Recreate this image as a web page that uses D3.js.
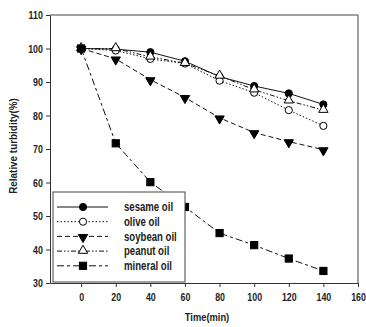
<!DOCTYPE html>
<html>
<head>
<meta charset="utf-8">
<script src="https://cdn.jsdelivr.net/npm/d3@7"></script>
<style>
  body { margin: 0; background: #fff; }
  svg text { font-family: "Liberation Sans", Arial, sans-serif; font-weight: bold; fill: #222; }
  .axis path, .axis line { stroke: #333; }
</style>
</head>
<body>
<div id="chart"></div>
<script>
// tiempos y valores
var times = [0, 20, 40, 60, 80, 100, 120, 140];
var sesame = [100, 99.8, 98.9, 96.2, 91.6, 88.8, 86.6, 83.3];
var olive = [100, 99.4, 96.9, 95.5, 90.4, 86.8, 81.6, 76.9];
var soybean = [100, 96.9, 90.7, 85.4, 79.3, 74.9, 72.2, 69.8];
var peanut = [100, 100, 97.5, 95.6, 91.8, 87.7, 84.4, 81.6];
var mineral = [100, 71.7, 60.1, 52.7, 44.9, 41.3, 37.3, 33.6];
var seriesNames = ["sesame oil", "olive oil", "soybean oil", "peanut oil", "mineral oil"];
var xTicks = [0, 20, 40, 60, 80, 100, 120, 140, 160];
var yTicks = [30, 40, 50, 60, 70, 80, 90, 100, 110];

var series = [
  {name: seriesNames[0], values: sesame, dash: null, marker: "circle", fill: "#000"},
  {name: seriesNames[1], values: olive, dash: "1.5,2", marker: "circle", fill: "#fff"},
  {name: seriesNames[2], values: soybean, dash: "5,3", marker: "down", fill: "#000"},
  {name: seriesNames[3], values: peanut, dash: "5,2,1.5,2,1.5,2", marker: "up", fill: "#fff"},
  {name: seriesNames[4], values: mineral, dash: "7,3,3,3", marker: "square", fill: "#000"}
];

var margin = {top: 15, right: 8, bottom: 44, left: 50},
    width = 366 - margin.left - margin.right,
    height = 327 - margin.top - margin.bottom;

var x = d3.scaleLinear().domain([-18, 160]).range([0, width]);
var y = d3.scaleLinear().domain([30, 110]).range([height, 0]);

var svg = d3.select("#chart").append("svg")
    .attr("width", 366)
    .attr("height", 327);

var g = svg.append("g")
    .attr("transform", "translate(" + margin.left + "," + margin.top + ")");

// marco
g.append("line").attr("x1", 0).attr("x2", width).attr("y1", 0).attr("y2", 0).attr("stroke", "#444");
g.append("line").attr("x1", width).attr("x2", width).attr("y1", 0).attr("y2", height).attr("stroke", "#444");

var xAxis = d3.axisBottom(x).tickValues(xTicks).tickSize(4).tickSizeOuter(0);
var yAxis = d3.axisLeft(y).tickValues(yTicks).tickSize(4).tickSizeOuter(0);

g.append("g")
    .attr("class", "x axis")
    .attr("transform", "translate(0," + height + ")")
    .call(xAxis)
    .selectAll("text")
    .style("font-size", "11px")
    .attr("y", 10)
    .attr("dy", "0.71em")
    .attr("transform", "scale(0.8,1)");

g.append("g")
    .attr("class", "y axis")
    .call(yAxis)
    .selectAll("text")
    .style("font-size", "11px")
    .attr("x", -9)
    .attr("transform", "scale(0.8,1)");

g.selectAll(".domain").attr("stroke", "#333");

function drawMarker(sel, type, fill, cx, cy) {
  if (type === "circle") {
    sel.append("circle").attr("cx", cx).attr("cy", cy).attr("r", 3.6)
      .attr("fill", fill).attr("stroke", "#000").attr("stroke-width", 1);
  } else if (type === "square") {
    sel.append("rect").attr("x", cx - 3.6).attr("y", cy - 3.6).attr("width", 7.2).attr("height", 7.2)
      .attr("fill", fill).attr("stroke", "#000");
  } else {
    sel.append("path")
      .attr("d", d3.symbol().type(d3.symbolTriangle).size(38)())
      .attr("transform", "translate(" + cx + "," + (cy + (type === "down" ? 0.8 : -0.5)) + ")" + (type === "down" ? " rotate(180)" : ""))
      .attr("fill", fill).attr("stroke", "#000").attr("stroke-width", 1);
  }
}

var line = d3.line()
    .x(function(d, i) { return x(times[i]); })
    .y(function(d) { return y(d); });

series.forEach(function(s) {
  g.append("path")
      .attr("d", line(s.values))
      .attr("fill", "none")
      .attr("stroke", "#111")
      .attr("stroke-width", 1)
      .attr("stroke-dasharray", s.dash);
});

series.forEach(function(s) {
  var mg = g.append("g");
  s.values.forEach(function(v, i) {
    drawMarker(mg, s.marker, s.fill, x(times[i]), y(v));
  });
});

// leyenda
var legend = g.append("g").attr("transform", "translate(3,177)");
legend.append("rect")
    .attr("x", 0).attr("y", 0)
    .attr("width", 132).attr("height", 90)
    .attr("fill", "#fff").attr("stroke", "#444");

series.forEach(function(s, i) {
  var ly = 15 + i * 14.7;
  legend.append("line")
      .attr("x1", 4).attr("x2", 55).attr("y1", ly).attr("y2", ly)
      .attr("stroke", "#111").attr("stroke-dasharray", s.dash);
  drawMarker(legend, s.marker, s.fill, 30, ly);
  legend.append("text")
      .attr("transform", "translate(71," + ly + ") scale(0.8,1)")
      .attr("dy", "0.35em")
      .style("font-size", "12px")
      .text(s.name);
});

// titulos de ejes
svg.append("text")
    .attr("transform", "translate(" + (margin.left + width / 2 + 3) + ",321) scale(0.85,1)")
    .attr("text-anchor", "middle")
    .style("font-size", "11px")
    .text("Time(min)");

svg.append("text")
    .attr("transform", "translate(17,146) rotate(-90) scale(0.9,1)")
    .attr("text-anchor", "middle")
    .style("font-size", "11px")
    .text("Relative turbidity(%)");
</script>
</body>
</html>
